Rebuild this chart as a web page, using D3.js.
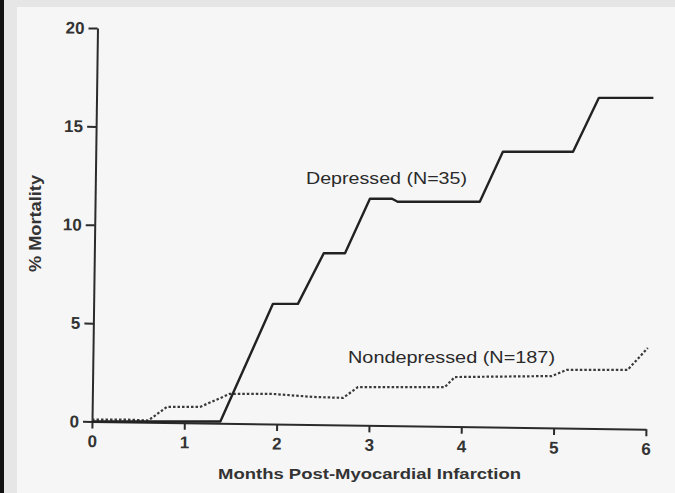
<!DOCTYPE html>
<html>
<head>
<meta charset="utf-8">
<script src="https://cdn.jsdelivr.net/npm/d3@7"></script>
<style>
  html, body { margin: 0; padding: 0; background: #f5f5f5; }
  svg { display: block; }
</style>
</head>
<body>
<svg id="chart" width="675" height="493"></svg>
<script>
// ---- data ----
const xTicks = [0, 1, 2, 3, 4, 5, 6];
const yTicks = [0, 5, 10, 15, 20];

const depressedMonths    = [0, 1.39, 1.96, 2.23, 2.51, 2.74, 3.01, 3.25, 3.31, 4.20, 4.45, 5.21, 5.49, 6.08];
const depressedMortality = [0, 0,    5.98, 5.98, 8.55, 8.55, 11.32, 11.32, 11.17, 11.17, 13.71, 13.71, 16.45, 16.45];

const nondepMonths    = [0, 0.35, 0.61, 0.81, 1.17, 1.49, 1.96, 2.39, 2.72, 2.88, 3.82, 3.93, 4.98, 5.14, 5.80, 6.02];
const nondepMortality = [0.1, 0.1, 0.05, 0.74, 0.74, 1.40, 1.40, 1.25, 1.20, 1.75, 1.75, 2.26, 2.31, 2.62, 2.62, 3.74];

const depressedLabel = "Depressed (N=35)";
const nondepLabel = "Nondepressed (N=187)";
const xTitle = "Months Post-Myocardial Infarction";
const yTitle = "% Mortality";

// ---- layout ----
const W = 675, H = 493;
const svg = d3.select("#chart");

// scanned frame
svg.append("rect").attr("x", 0).attr("y", 0).attr("width", W).attr("height", H).attr("fill", "#e6e6e6");
svg.append("rect").attr("x", 17).attr("y", 7).attr("width", W - 17).attr("height", H - 7).attr("fill", "#f6f6f6");
svg.append("rect").attr("x", 0).attr("y", 0).attr("width", 4).attr("height", H).attr("fill", "#111");

const x = d3.scaleLinear().domain([0, 6]).range([92, 646]);
const y = d3.scaleLinear().domain([0, 20]).range([421.5, 28]);

const ink = "#2b2b2b";
const tilt = 0.8; // slight rotation of the scanned axes
const fmt = d3.format("d");

const axesG = svg.append("g")
  .attr("transform", `rotate(${tilt}, ${x(0)}, ${y(0)})`);

const yAxis = axesG.append("g")
  .attr("transform", `translate(${x(0)},0)`)
  .call(d3.axisLeft(y).tickValues(yTicks).tickFormat(fmt).tickSize(9).tickSizeOuter(0).tickPadding(4));

const xAxis = axesG.append("g")
  .attr("transform", `translate(0,${y(0)})`)
  .call(d3.axisBottom(x).tickValues(xTicks).tickFormat(fmt).tickSize(7).tickSizeOuter(0).tickPadding(6.5));

[yAxis, xAxis].forEach(g => {
  g.select(".domain").attr("stroke", ink).attr("stroke-width", 2);
  g.selectAll(".tick line").attr("stroke", ink).attr("stroke-width", 2);
  g.selectAll(".tick text")
    .attr("fill", "#333")
    .style("font-family", "'Liberation Sans', Arial, Helvetica, sans-serif")
    .style("font-weight", "bold")
    .style("font-size", "17px");
});

// ---- series ----
const line = d3.line().x(d => x(d[0])).y(d => y(d[1]));

const nondep = nondepMonths.map((m, i) => [m, nondepMortality[i]]);
const depressed = depressedMonths.map((m, i) => [m, depressedMortality[i]]);

svg.append("path")
  .datum(nondep)
  .attr("d", line)
  .attr("fill", "none")
  .attr("stroke", "#3a3a3a")
  .attr("stroke-width", 2.2)
  .attr("stroke-dasharray", "2.5,2");

svg.append("path")
  .datum(depressed)
  .attr("d", line)
  .attr("fill", "none")
  .attr("stroke", "#222")
  .attr("stroke-width", 2.4)
  .attr("stroke-linejoin", "round");

// ---- labels ----
const font = "'Liberation Sans', Arial, Helvetica, sans-serif";

svg.append("text")
  .attr("x", 306).attr("y", 184)
  .attr("textLength", 161).attr("lengthAdjust", "spacingAndGlyphs")
  .style("font-family", font).style("font-size", "16px")
  .attr("fill", "#2a2a2a")
  .text(depressedLabel);

svg.append("text")
  .attr("x", 348).attr("y", 363)
  .attr("textLength", 207).attr("lengthAdjust", "spacingAndGlyphs")
  .style("font-family", font).style("font-size", "16px")
  .attr("fill", "#2a2a2a")
  .text(nondepLabel);

svg.append("text")
  .attr("x", 218).attr("y", 479)
  .attr("textLength", 303).attr("lengthAdjust", "spacingAndGlyphs")
  .style("font-family", font).style("font-size", "15px").style("font-weight", "bold")
  .attr("fill", "#333")
  .text(xTitle);

svg.append("text")
  .attr("transform", "translate(41,272) rotate(-90)")
  .attr("x", 0).attr("y", 0)
  .attr("textLength", 97).attr("lengthAdjust", "spacingAndGlyphs")
  .style("font-family", font).style("font-size", "16px").style("font-weight", "bold")
  .attr("fill", "#333")
  .text(yTitle);
</script>
</body>
</html>
